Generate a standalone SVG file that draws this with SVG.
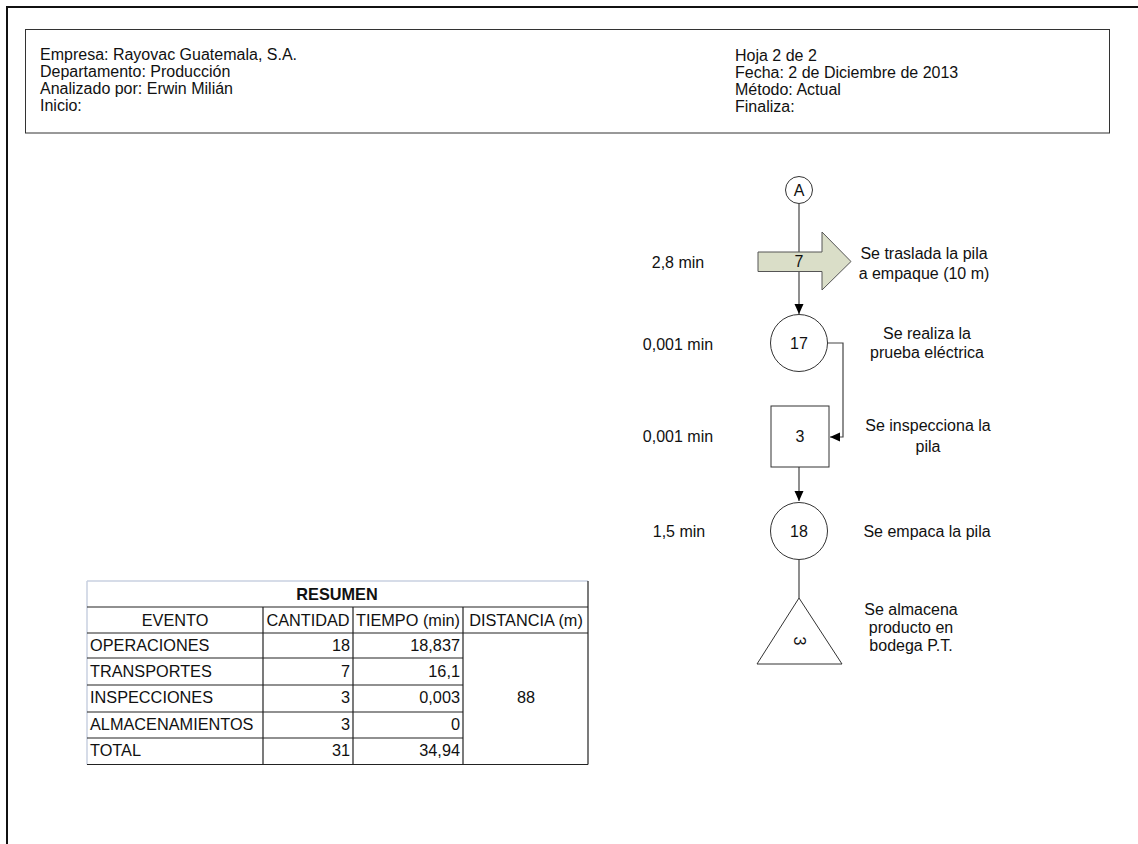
<svg xmlns="http://www.w3.org/2000/svg" width="1138" height="844" viewBox="0 0 1138 844">
  <style>
    text { font-family: "Liberation Sans", Arial, sans-serif; fill: #111; }
    .hdr { font-size: 16px; }
    .lbl { font-size: 16px; }
    .mid { text-anchor: middle; }
    .shape { fill: #fff; stroke: #333; stroke-width: 1; }
    .conn { fill: none; stroke: #444; stroke-width: 1.2; }
    .tbl { font-size: 16.3px; }
    .r { text-anchor: end; }
    .grid { stroke: #222; stroke-width: 1.2; }
    .light { stroke: #c9d1e0; stroke-width: 1.5; }
  </style>
  <defs>
    <marker id="arrow" markerWidth="10" markerHeight="10" refX="10" refY="5" orient="auto" markerUnits="userSpaceOnUse">
      <path d="M0,0.5 L10,5 L0,9.5 Z" fill="#000"/>
    </marker>
  </defs>

  <rect width="1138" height="844" fill="#fff"/>

  <!-- page frame -->
  <path d="M7,844 V7 H1138" fill="none" stroke="#111" stroke-width="2"/>

  <!-- header block -->
  <g id="header">
    <rect x="25.5" y="29.5" width="1084" height="103.5" fill="none" stroke="#333" stroke-width="1"/>
    <text class="hdr" x="40" y="60">Empresa: Rayovac Guatemala, S.A.</text>
    <text class="hdr" x="40" y="77">Departamento: Producción</text>
    <text class="hdr" x="40" y="94">Analizado por: Erwin Milián</text>
    <text class="hdr" x="40" y="111">Inicio:</text>
    <text class="hdr" x="735" y="61">Hoja 2 de 2</text>
    <text class="hdr" x="735" y="78">Fecha: 2 de Diciembre de 2013</text>
    <text class="hdr" x="735" y="95">Método: Actual</text>
    <text class="hdr" x="735" y="112">Finaliza:</text>
  </g>

  <!-- connectors -->
  <g id="connectors">
    <path class="conn" d="M799,204 V314" marker-end="url(#arrow)"/>
    <path class="conn" d="M827,343 H843 V437 H830" marker-end="url(#arrow)"/>
    <path class="conn" d="M799,467 V501" marker-end="url(#arrow)"/>
    <path class="conn" d="M799,560 V598"/>
  </g>

  <!-- connector A -->
  <g id="node-A">
    <circle class="shape" cx="799" cy="190" r="13.5"/>
    <text class="lbl mid" x="799" y="195.5">A</text>
  </g>

  <!-- transport 7 -->
  <g id="node-T7">
    <path d="M758,252 H822 V232 L851,261.5 L822,290 V271.5 H758 Z" fill="#dadec8" stroke="#555" stroke-width="1"/>
    <text class="lbl mid" x="799" y="267">7</text>
    <text class="lbl mid" x="678" y="268">2,8 min</text>
    <text class="lbl mid" x="924" y="259">Se traslada la pila</text>
    <text class="lbl mid" x="924" y="279">a empaque (10 m)</text>
  </g>

  <!-- operation 17 -->
  <g id="node-O17">
    <circle class="shape" cx="799" cy="343" r="28.5"/>
    <text class="lbl mid" x="799" y="348.5">17</text>
    <text class="lbl mid" x="678" y="349.5">0,001 min</text>
    <text class="lbl mid" x="927" y="339">Se realiza la</text>
    <text class="lbl mid" x="927" y="358">prueba eléctrica</text>
  </g>

  <!-- inspection 3 -->
  <g id="node-I3">
    <rect class="shape" x="771" y="406" width="58" height="61"/>
    <text class="lbl mid" x="800" y="442">3</text>
    <text class="lbl mid" x="678" y="442">0,001 min</text>
    <text class="lbl mid" x="928" y="431">Se inspecciona la</text>
    <text class="lbl mid" x="928" y="452">pila</text>
  </g>

  <!-- operation 18 -->
  <g id="node-O18">
    <circle class="shape" cx="799" cy="531" r="28.5"/>
    <text class="lbl mid" x="799" y="536.5">18</text>
    <text class="lbl mid" x="679" y="537">1,5 min</text>
    <text class="lbl mid" x="927" y="537">Se empaca la pila</text>
  </g>

  <!-- storage 3 -->
  <g id="node-S3">
    <path class="shape" d="M799,598 L842,664 H757 Z"/>
    <text class="lbl mid" transform="translate(799,641) rotate(90)" x="0" y="5.5">3</text>
    <text class="lbl mid" x="911" y="615">Se almacena</text>
    <text class="lbl mid" x="911" y="633">producto en</text>
    <text class="lbl mid" x="911" y="651">bodega P.T.</text>
  </g>

  <!-- summary table -->
  <g id="summary">
    <rect x="87" y="581" width="501" height="183.5" fill="#fff"/>
    <!-- grid -->
    <line class="light" x1="87" y1="581" x2="588" y2="581"/>
    <line class="light" x1="87" y1="581" x2="87" y2="764.5"/>
    <line class="grid" x1="588" y1="581" x2="588" y2="764.5"/>
    <line class="grid" x1="87" y1="764.5" x2="588" y2="764.5"/>
    <line class="grid" x1="87" y1="607" x2="588" y2="607"/>
    <line class="grid" x1="87" y1="633" x2="588" y2="633"/>
    <line class="grid" x1="87" y1="658" x2="463" y2="658"/>
    <line class="grid" x1="87" y1="685" x2="463" y2="685"/>
    <line class="grid" x1="87" y1="712" x2="463" y2="712"/>
    <line class="grid" x1="87" y1="738" x2="463" y2="738"/>
    <line class="grid" x1="263" y1="607" x2="263" y2="764.5"/>
    <line class="grid" x1="353" y1="607" x2="353" y2="764.5"/>
    <line class="grid" x1="463" y1="607" x2="463" y2="764.5"/>

    <text class="tbl mid" x="337" y="600" font-weight="bold">RESUMEN</text>
    <text class="tbl mid" x="175" y="626">EVENTO</text>
    <text class="tbl mid" x="308" y="626">CANTIDAD</text>
    <text class="tbl mid" x="408" y="626">TIEMPO (min)</text>
    <text class="tbl mid" x="526" y="626">DISTANCIA (m)</text>

    <text class="tbl" x="90" y="651">OPERACIONES</text>
    <text class="tbl" x="90" y="677">TRANSPORTES</text>
    <text class="tbl" x="90" y="703">INSPECCIONES</text>
    <text class="tbl" x="90" y="730">ALMACENAMIENTOS</text>
    <text class="tbl" x="90" y="756">TOTAL</text>

    <text class="tbl r" x="350" y="651">18</text>
    <text class="tbl r" x="350" y="677">7</text>
    <text class="tbl r" x="350" y="703">3</text>
    <text class="tbl r" x="350" y="730">3</text>
    <text class="tbl r" x="350" y="756">31</text>

    <text class="tbl r" x="460" y="651">18,837</text>
    <text class="tbl r" x="460" y="677">16,1</text>
    <text class="tbl r" x="460" y="703">0,003</text>
    <text class="tbl r" x="460" y="730">0</text>
    <text class="tbl r" x="460" y="756">34,94</text>

    <text class="tbl mid" x="526" y="703">88</text>
  </g>
</svg>
